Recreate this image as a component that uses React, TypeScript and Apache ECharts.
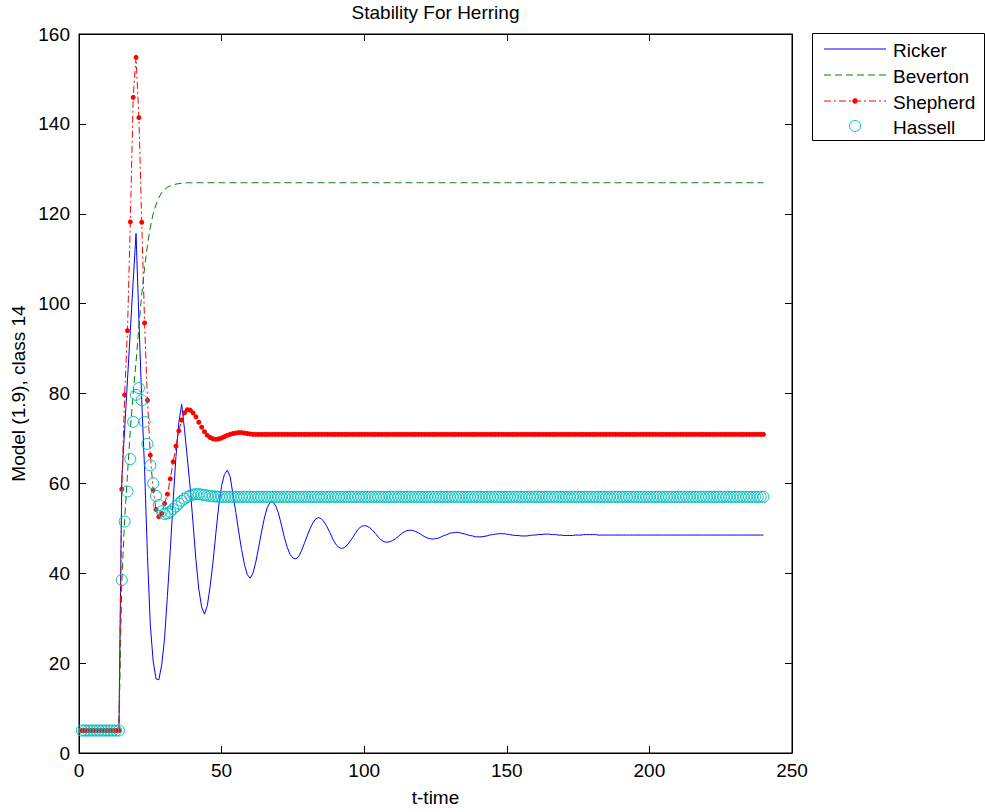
import React, { useEffect, useRef } from "react";
import * as echarts from "echarts";

// ---------- text ----------
const TITLE = "Stability For Herring";
const X_LABEL = "t-time";
const Y_LABEL = "Model (1.9), class 14";
const SERIES_NAMES = ["Ricker", "Beverton", "Shepherd", "Hassell"];

// ---------- axes ----------
const X_MIN = 0;
const X_MAX = 250;
const X_STEP = 50;
const Y_MIN = 0;
const Y_MAX = 160;
const Y_STEP = 20;

// time steps start at t = 1
const T_START = 1;

// ---------- series values (one per time step, t = 1..240) ----------
const RICKER = [
  5, 5, 5, 5, 5, 5, 5, 5, 5, 5, 5, 5, 5, 5,
  61, 72, 83, 94, 105, 115.6, 96.5, 78.5, 63, 44,
  28.5, 20.5, 16.5, 16.3, 19.6, 25.5, 35, 45, 56, 66,
  73.5, 77.6, 72, 65.5, 59, 51, 43, 36.5, 32.5, 30.9,
  32.8, 37.2, 42.5, 49, 55, 59.5, 62, 62.9, 61.5, 57.5,
  53.5, 49.2, 45.3, 42, 39.7, 38.9, 40, 42.5, 45.8, 49.2,
  52.3, 54.6, 55.8, 55.9, 55, 53.2, 50.7, 48, 45.8, 44.2,
  43.4, 43.2, 43.7, 45, 46.6, 48.3, 49.9, 51.2, 52.1, 52.4,
  52.1, 51.4, 50.3, 49.0, 47.6, 46.5, 45.8, 45.5, 45.7, 46.2,
  47.1, 48.0, 49.0, 49.9, 50.4, 50.6, 50.5, 50.1, 49.5, 48.8,
  48.0, 47.4, 47.0, 46.9, 47.0, 47.3, 47.7, 48.2, 48.8, 49.2,
  49.5, 49.6, 49.5, 49.3, 49.0, 48.6, 48.2, 47.9, 47.7, 47.6,
  47.7, 47.8, 48.1, 48.4, 48.6, 48.9, 49.0, 49.1, 49.1, 48.9,
  48.8, 48.6, 48.4, 48.3, 48.1, 48.1, 48.1, 48.2, 48.3, 48.5,
  48.6, 48.7, 48.8, 48.8, 48.8, 48.7, 48.6, 48.5, 48.4, 48.4,
  48.3, 48.3, 48.3, 48.4, 48.5, 48.5, 48.6, 48.6, 48.7, 48.7,
  48.7, 48.6, 48.6, 48.5, 48.5, 48.4, 48.4, 48.4, 48.4, 48.5,
  48.5, 48.5, 48.6, 48.6, 48.6, 48.6, 48.6, 48.5, 48.5, 48.5,
  48.5, 48.5, 48.5, 48.5, 48.5, 48.5, 48.5, 48.5, 48.5, 48.5,
  48.5, 48.5, 48.5, 48.5, 48.5, 48.5, 48.5, 48.5, 48.5, 48.5,
  48.5, 48.5, 48.5, 48.5, 48.5, 48.5, 48.5, 48.5, 48.5, 48.5,
  48.5, 48.5, 48.5, 48.5, 48.5, 48.5, 48.5, 48.5, 48.5, 48.5,
  48.5, 48.5, 48.5, 48.5, 48.5, 48.5, 48.5, 48.5, 48.5, 48.5,
  48.5, 48.5, 48.5, 48.5, 48.5, 48.5,
];

const BEVERTON = [
  5, 5, 5, 5, 5, 5, 5, 5, 5, 5, 5, 5, 5, 5,
  38, 52, 62, 72, 80, 87, 95, 102, 108, 113,
  117, 120, 122, 123.6, 124.7, 125.4, 125.9, 126.2, 126.4, 126.6,
  126.7, 126.8, 126.8, 126.9, 126.9, 126.9, 126.9, 126.9, 126.9, 126.9,
  126.9, 126.9, 126.9, 126.9, 126.9, 126.9, 126.9, 126.9, 126.9, 126.9,
  126.9, 126.9, 126.9, 126.9, 126.9, 126.9, 126.9, 126.9, 126.9, 126.9,
  126.9, 126.9, 126.9, 126.9, 126.9, 126.9, 126.9, 126.9, 126.9, 126.9,
  126.9, 126.9, 126.9, 126.9, 126.9, 126.9, 126.9, 126.9, 126.9, 126.9,
  126.9, 126.9, 126.9, 126.9, 126.9, 126.9, 126.9, 126.9, 126.9, 126.9,
  126.9, 126.9, 126.9, 126.9, 126.9, 126.9, 126.9, 126.9, 126.9, 126.9,
  126.9, 126.9, 126.9, 126.9, 126.9, 126.9, 126.9, 126.9, 126.9, 126.9,
  126.9, 126.9, 126.9, 126.9, 126.9, 126.9, 126.9, 126.9, 126.9, 126.9,
  126.9, 126.9, 126.9, 126.9, 126.9, 126.9, 126.9, 126.9, 126.9, 126.9,
  126.9, 126.9, 126.9, 126.9, 126.9, 126.9, 126.9, 126.9, 126.9, 126.9,
  126.9, 126.9, 126.9, 126.9, 126.9, 126.9, 126.9, 126.9, 126.9, 126.9,
  126.9, 126.9, 126.9, 126.9, 126.9, 126.9, 126.9, 126.9, 126.9, 126.9,
  126.9, 126.9, 126.9, 126.9, 126.9, 126.9, 126.9, 126.9, 126.9, 126.9,
  126.9, 126.9, 126.9, 126.9, 126.9, 126.9, 126.9, 126.9, 126.9, 126.9,
  126.9, 126.9, 126.9, 126.9, 126.9, 126.9, 126.9, 126.9, 126.9, 126.9,
  126.9, 126.9, 126.9, 126.9, 126.9, 126.9, 126.9, 126.9, 126.9, 126.9,
  126.9, 126.9, 126.9, 126.9, 126.9, 126.9, 126.9, 126.9, 126.9, 126.9,
  126.9, 126.9, 126.9, 126.9, 126.9, 126.9, 126.9, 126.9, 126.9, 126.9,
  126.9, 126.9, 126.9, 126.9, 126.9, 126.9, 126.9, 126.9, 126.9, 126.9,
  126.9, 126.9, 126.9, 126.9, 126.9, 126.9,
];

const SHEPHERD = [
  5, 5, 5, 5, 5, 5, 5, 5, 5, 5, 5, 5, 5, 5,
  58.7, 79.7, 94.0, 118.2, 145.9, 154.8, 141.4, 118.1, 95.7, 78.5,
  66.3, 58.5, 54.2, 52.6, 53.3, 55.5, 57.6, 61.0, 64.8, 68.3,
  71.7, 74.1, 75.7, 76.4, 76.3, 75.7, 74.8, 73.6, 72.5, 71.5,
  70.7, 70.2, 69.9, 69.8, 69.9, 70.1, 70.4, 70.7, 70.9, 71.1,
  71.2, 71.3, 71.3, 71.2, 71.1, 71.0, 70.9, 70.9, 70.9, 70.9,
  70.9, 70.9, 70.9, 70.9, 70.9, 70.9, 70.9, 70.9, 70.9, 70.9,
  70.9, 70.9, 70.9, 70.9, 70.9, 70.9, 70.9, 70.9, 70.9, 70.9,
  70.9, 70.9, 70.9, 70.9, 70.9, 70.9, 70.9, 70.9, 70.9, 70.9,
  70.9, 70.9, 70.9, 70.9, 70.9, 70.9, 70.9, 70.9, 70.9, 70.9,
  70.9, 70.9, 70.9, 70.9, 70.9, 70.9, 70.9, 70.9, 70.9, 70.9,
  70.9, 70.9, 70.9, 70.9, 70.9, 70.9, 70.9, 70.9, 70.9, 70.9,
  70.9, 70.9, 70.9, 70.9, 70.9, 70.9, 70.9, 70.9, 70.9, 70.9,
  70.9, 70.9, 70.9, 70.9, 70.9, 70.9, 70.9, 70.9, 70.9, 70.9,
  70.9, 70.9, 70.9, 70.9, 70.9, 70.9, 70.9, 70.9, 70.9, 70.9,
  70.9, 70.9, 70.9, 70.9, 70.9, 70.9, 70.9, 70.9, 70.9, 70.9,
  70.9, 70.9, 70.9, 70.9, 70.9, 70.9, 70.9, 70.9, 70.9, 70.9,
  70.9, 70.9, 70.9, 70.9, 70.9, 70.9, 70.9, 70.9, 70.9, 70.9,
  70.9, 70.9, 70.9, 70.9, 70.9, 70.9, 70.9, 70.9, 70.9, 70.9,
  70.9, 70.9, 70.9, 70.9, 70.9, 70.9, 70.9, 70.9, 70.9, 70.9,
  70.9, 70.9, 70.9, 70.9, 70.9, 70.9, 70.9, 70.9, 70.9, 70.9,
  70.9, 70.9, 70.9, 70.9, 70.9, 70.9, 70.9, 70.9, 70.9, 70.9,
  70.9, 70.9, 70.9, 70.9, 70.9, 70.9, 70.9, 70.9, 70.9, 70.9,
  70.9, 70.9, 70.9, 70.9, 70.9, 70.9,
];

const HASSELL = [
  5, 5, 5, 5, 5, 5, 5, 5, 5, 5, 5, 5, 5, 5,
  38.5, 51.5, 58.2, 65.4, 73.7, 79.7, 81.2, 78.5, 73.7, 68.8,
  64.0, 60.0, 57.2, 55.2, 53.8, 53.2, 53.3, 53.7, 54.3, 54.9,
  55.5, 56.1, 56.6, 57.0, 57.3, 57.5, 57.6, 57.6, 57.5, 57.4,
  57.3, 57.2, 57.1, 57.1, 57.0, 57.0, 57.0, 57.0, 57.0, 57.0,
  57.0, 57.0, 57.0, 57.0, 57.0, 57.0, 57.0, 57.0, 57.0, 57.0,
  57.0, 57.0, 57.0, 57.0, 57.0, 57.0, 57.0, 57.0, 57.0, 57.0,
  57.0, 57.0, 57.0, 57.0, 57.0, 57.0, 57.0, 57.0, 57.0, 57.0,
  57.0, 57.0, 57.0, 57.0, 57.0, 57.0, 57.0, 57.0, 57.0, 57.0,
  57.0, 57.0, 57.0, 57.0, 57.0, 57.0, 57.0, 57.0, 57.0, 57.0,
  57.0, 57.0, 57.0, 57.0, 57.0, 57.0, 57.0, 57.0, 57.0, 57.0,
  57.0, 57.0, 57.0, 57.0, 57.0, 57.0, 57.0, 57.0, 57.0, 57.0,
  57.0, 57.0, 57.0, 57.0, 57.0, 57.0, 57.0, 57.0, 57.0, 57.0,
  57.0, 57.0, 57.0, 57.0, 57.0, 57.0, 57.0, 57.0, 57.0, 57.0,
  57.0, 57.0, 57.0, 57.0, 57.0, 57.0, 57.0, 57.0, 57.0, 57.0,
  57.0, 57.0, 57.0, 57.0, 57.0, 57.0, 57.0, 57.0, 57.0, 57.0,
  57.0, 57.0, 57.0, 57.0, 57.0, 57.0, 57.0, 57.0, 57.0, 57.0,
  57.0, 57.0, 57.0, 57.0, 57.0, 57.0, 57.0, 57.0, 57.0, 57.0,
  57.0, 57.0, 57.0, 57.0, 57.0, 57.0, 57.0, 57.0, 57.0, 57.0,
  57.0, 57.0, 57.0, 57.0, 57.0, 57.0, 57.0, 57.0, 57.0, 57.0,
  57.0, 57.0, 57.0, 57.0, 57.0, 57.0, 57.0, 57.0, 57.0, 57.0,
  57.0, 57.0, 57.0, 57.0, 57.0, 57.0, 57.0, 57.0, 57.0, 57.0,
  57.0, 57.0, 57.0, 57.0, 57.0, 57.0, 57.0, 57.0, 57.0, 57.0,
  57.0, 57.0, 57.0, 57.0, 57.0, 57.0,
];

// ---------- styling / layout ----------
const W = 985;
const H = 812;
const GRID = { left: 79, right: 193, top: 34, bottom: 59 };
const FONT = '"Liberation Sans", Arial, Helvetica, sans-serif';
const FS = 19;
const BLUE = "#0000ff";
const GREEN = "#008000";
const RED = "#ff0000";
const CYAN = "#00bfbf";
const DASH = [7, 4];
const DASHDOT = [7, 3, 2, 3];

const toPairs = (arr: number[]) => arr.map((v, i) => [i + T_START, v]);

export default function App() {
  const ref = useRef<HTMLDivElement>(null);

  useEffect(() => {
    if (!ref.current) return;
    const chart = echarts.init(ref.current, null, { renderer: "svg" });

    const plotL = GRID.left;
    const plotR = W - GRID.right;
    const plotT = GRID.top;
    const plotB = H - GRID.bottom;
    const plotCx = (plotL + plotR) / 2;
    const plotCy = (plotT + plotB) / 2;

    const textStyle = (text: string, extra: any = {}) => ({
      text,
      fill: "#000",
      font: `${FS}px ${FONT}`,
      fontSize: FS,
      fontFamily: FONT,
      align: "center",
      verticalAlign: "middle",
      textAlign: "center",
      textVerticalAlign: "middle",
      ...extra,
    });

    // legend (drawn as graphics, MATLAB style)
    const LEG = { x: 812, y: 33, w: 172, h: 107, lineX0: 824, lineX1: 886, textX: 893 };
    const legRows = [49, 75, 101, 126];
    const legendEls: any[] = [
      {
        type: "rect",
        shape: { x: LEG.x + 0.5, y: LEG.y + 0.5, width: LEG.w, height: LEG.h },
        style: { fill: "#fff", stroke: "#000", lineWidth: 1 },
        z: 10,
      },
    ];
    const legStyles = [
      { stroke: BLUE, lineDash: null, line: true, marker: null },
      { stroke: GREEN, lineDash: DASH, line: true, marker: null },
      { stroke: RED, lineDash: DASHDOT, line: true, marker: "dot" },
      { stroke: CYAN, lineDash: null, line: false, marker: "ring" },
    ];
    SERIES_NAMES.forEach((name, i) => {
      const y = legRows[i];
      const s = legStyles[i];
      if (s.line) {
        const ls: any = { stroke: s.stroke, fill: "none", lineWidth: 1 };
        if (s.lineDash) ls.lineDash = s.lineDash;
        legendEls.push({
          type: "polyline",
          shape: { points: [[LEG.lineX0, y], [LEG.lineX1, y]] },
          style: ls,
          z: 11,
        });
      }
      const mx = (LEG.lineX0 + LEG.lineX1) / 2;
      if (s.marker === "dot") {
        legendEls.push({
          type: "circle",
          shape: { cx: mx, cy: y, r: 2.5 },
          style: { fill: RED, stroke: RED, lineWidth: 0.5 },
          z: 12,
        });
      } else if (s.marker === "ring") {
        legendEls.push({
          type: "circle",
          shape: { cx: mx, cy: y, r: 5.5 },
          style: { fill: "none", stroke: CYAN, lineWidth: 1 },
          z: 12,
        });
      }
      legendEls.push({
        type: "text",
        x: LEG.textX,
        y: y + 1,
        style: textStyle(name, { align: "left", textAlign: "left" }),
        z: 12,
      });
    });

    const axisCommon = {
      splitLine: { show: false },
      axisLine: { show: true, onZero: false, lineStyle: { color: "#000", width: 1 } },
      axisTick: { show: true, inside: true, length: 7, lineStyle: { color: "#000", width: 1 } },
    };

    chart.setOption({
      animation: false,
      backgroundColor: "#fff",
      grid: {
        left: GRID.left,
        right: GRID.right,
        top: GRID.top,
        bottom: GRID.bottom,
        show: true,
        borderColor: "#000",
        borderWidth: 1,
        backgroundColor: "#fff",
      },
      xAxis: [
        {
          ...axisCommon,
          type: "value",
          position: "bottom",
          min: X_MIN,
          max: X_MAX,
          interval: X_STEP,
          axisLabel: { show: true, color: "#000", fontSize: FS, fontFamily: FONT, margin: 8 },
        },
        {
          ...axisCommon,
          type: "value",
          position: "top",
          min: X_MIN,
          max: X_MAX,
          interval: X_STEP,
          axisLabel: { show: false },
        },
      ],
      yAxis: [
        {
          ...axisCommon,
          type: "value",
          position: "left",
          min: Y_MIN,
          max: Y_MAX,
          interval: Y_STEP,
          axisLabel: { show: true, color: "#000", fontSize: FS, fontFamily: FONT, margin: 9 },
        },
        {
          ...axisCommon,
          type: "value",
          position: "right",
          min: Y_MIN,
          max: Y_MAX,
          interval: Y_STEP,
          axisLabel: { show: false },
        },
      ],
      series: [
        {
          name: SERIES_NAMES[0],
          type: "line",
          data: toPairs(RICKER),
          showSymbol: false,
          lineStyle: { color: BLUE, width: 1 },
          itemStyle: { color: BLUE },
          silent: true,
          z: 2,
        },
        {
          name: SERIES_NAMES[1],
          type: "line",
          data: toPairs(BEVERTON),
          showSymbol: false,
          lineStyle: { color: GREEN, width: 1, type: DASH },
          itemStyle: { color: GREEN },
          silent: true,
          z: 3,
        },
        {
          name: SERIES_NAMES[2],
          type: "line",
          data: toPairs(SHEPHERD),
          symbol: "circle",
          symbolSize: 5,
          showAllSymbol: true,
          lineStyle: { color: RED, width: 1, type: DASHDOT },
          itemStyle: { color: RED },
          silent: true,
          z: 4,
        },
        {
          name: SERIES_NAMES[3],
          type: "line",
          data: toPairs(HASSELL),
          symbol: "circle",
          symbolSize: 11,
          showAllSymbol: true,
          lineStyle: { opacity: 0, width: 0 },
          itemStyle: { color: "none", borderColor: CYAN, borderWidth: 1 },
          silent: true,
          z: 5,
        },
      ],
      graphic: [
        {
          type: "text",
          x: plotCx,
          y: 12,
          style: textStyle(TITLE),
        },
        {
          type: "text",
          x: plotCx,
          y: 797,
          style: textStyle(X_LABEL),
        },
        {
          type: "text",
          x: 18,
          y: plotCy,
          rotation: Math.PI / 2,
          style: textStyle(Y_LABEL),
        },
        ...legendEls,
      ],
    });

    return () => chart.dispose();
  }, []);

  return (
    <div
      ref={ref}
      style={{ position: "absolute", left: 0, top: 0, width: W, height: H }}
    />
  );
}
